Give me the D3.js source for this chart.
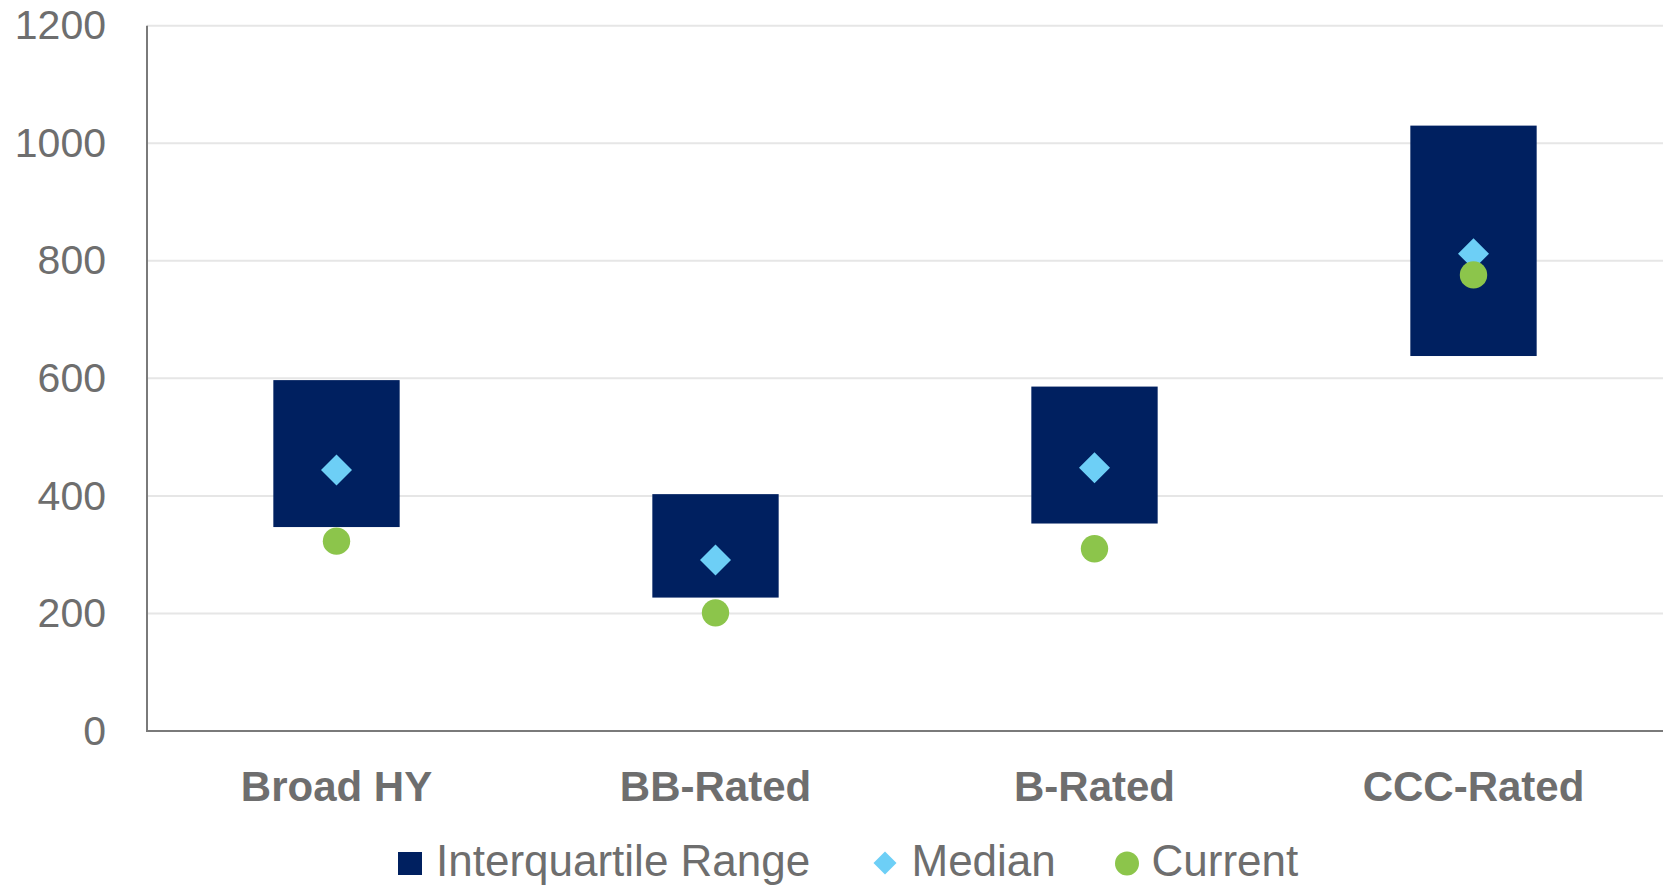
<!DOCTYPE html>
<html>
<head>
<meta charset="utf-8">
<script src="https://cdn.jsdelivr.net/npm/d3@7/dist/d3.min.js"></script>
<style>
  html, body { margin: 0; padding: 0; background: #ffffff; }
  svg { display: block; }
</style>
</head>
<body>
<svg id="chart" width="1665" height="885"></svg>
<script>
// Spread ranges by rating bucket
const categories = ["Broad HY", "BB-Rated", "B-Rated", "CCC-Rated"];
const q1Values = [347, 227, 353, 638];
const q3Values = [597, 403, 586, 1030];
const medianValues = [444, 291, 448, 812];
const currentValues = [323, 201, 310, 776];
const yTicks = [0, 200, 400, 600, 800, 1000, 1200];
const legendLabels = ["Interquartile Range", "Median", "Current"];

const colors = { iqr: "#002060", median: "#6dcff6", current: "#8cc54b", text: "#6e6e6e", grid: "#e6e6e6", axis: "#7a7a7a" };
const fontFamily = "'Liberation Sans', Arial, sans-serif";

const svg = d3.select("#chart");
const plot = { left: 147, right: 1663, top: 25.7, bottom: 731 };

const x = d3.scaleBand()
  .domain(categories)
  .range([plot.left, plot.right])
  .paddingInner(2 / 3)
  .paddingOuter(1 / 3);

const y = d3.scaleLinear()
  .domain([0, 1200])
  .range([plot.bottom, plot.top]);

const rows = categories.map((c, i) => ({
  cat: c, q1: q1Values[i], q3: q3Values[i], median: medianValues[i], current: currentValues[i]
}));

// Horizontal gridlines
svg.append("g")
  .selectAll("line")
  .data(yTicks.filter(t => t > 0))
  .join("line")
  .attr("x1", plot.left)
  .attr("x2", plot.right)
  .attr("y1", d => y(d))
  .attr("y2", d => y(d))
  .attr("stroke", colors.grid)
  .attr("stroke-width", 2);

// Y axis labels
const yAxis = d3.axisLeft(y).tickValues(yTicks).tickFormat(d3.format("d")).tickSize(0).tickPadding(41);
const yAxisG = svg.append("g")
  .attr("transform", `translate(${plot.left},0)`)
  .call(yAxis);
yAxisG.select(".domain").remove();
yAxisG.selectAll("text")
  .attr("fill", colors.text)
  .style("font-family", fontFamily)
  .style("font-size", "41px");

// Interquartile boxes
svg.append("g")
  .selectAll("rect")
  .data(rows)
  .join("rect")
  .attr("x", d => x(d.cat))
  .attr("width", x.bandwidth())
  .attr("y", d => y(d.q3))
  .attr("height", d => y(d.q1) - y(d.q3))
  .attr("fill", colors.iqr);

// Axis lines
svg.append("line")
  .attr("x1", plot.left).attr("x2", plot.left)
  .attr("y1", plot.top).attr("y2", plot.bottom + 1)
  .attr("stroke", colors.axis).attr("stroke-width", 2);
svg.append("line")
  .attr("x1", plot.left - 1).attr("x2", plot.right)
  .attr("y1", plot.bottom).attr("y2", plot.bottom)
  .attr("stroke", colors.axis).attr("stroke-width", 2);

const diamond = (cx, cy, r) => `M${cx},${cy - r}L${cx + r},${cy}L${cx},${cy + r}L${cx - r},${cy}Z`;

// Median markers
svg.append("g")
  .selectAll("path")
  .data(rows)
  .join("path")
  .attr("d", d => diamond(x(d.cat) + x.bandwidth() / 2, y(d.median), 15.5))
  .attr("fill", colors.median);

// Current markers
svg.append("g")
  .selectAll("circle")
  .data(rows)
  .join("circle")
  .attr("cx", d => x(d.cat) + x.bandwidth() / 2)
  .attr("cy", d => y(d.current))
  .attr("r", 13.7)
  .attr("fill", colors.current);

// Category labels
svg.append("g")
  .selectAll("text")
  .data(categories)
  .join("text")
  .attr("x", d => x(d) + x.bandwidth() / 2)
  .attr("y", 800.5)
  .attr("text-anchor", "middle")
  .attr("fill", colors.text)
  .style("font-family", fontFamily)
  .style("font-size", "42px")
  .style("font-weight", "bold")
  .text(d => d);

// Legend
const legend = svg.append("g");
const legendItems = [
  { label: legendLabels[0], markerX: 398, textX: 436, type: "rect" },
  { label: legendLabels[1], markerX: 873.5, textX: 911.5, type: "diamond" },
  { label: legendLabels[2], markerX: 1115, textX: 1151.5, type: "circle" }
];
legendItems.forEach(item => {
  if (item.type === "rect") {
    legend.append("rect").attr("x", item.markerX).attr("y", 852).attr("width", 24).attr("height", 23).attr("fill", colors.iqr);
  } else if (item.type === "diamond") {
    legend.append("path").attr("d", diamond(item.markerX + 11.5, 863, 11.5)).attr("fill", colors.median);
  } else {
    legend.append("circle").attr("cx", item.markerX + 12).attr("cy", 863.5).attr("r", 12).attr("fill", colors.current);
  }
  legend.append("text")
    .attr("x", item.textX)
    .attr("y", 875.5)
    .attr("fill", colors.text)
    .style("font-family", fontFamily)
    .style("font-size", "44px")
    .text(item.label);
});
</script>
</body>
</html>
